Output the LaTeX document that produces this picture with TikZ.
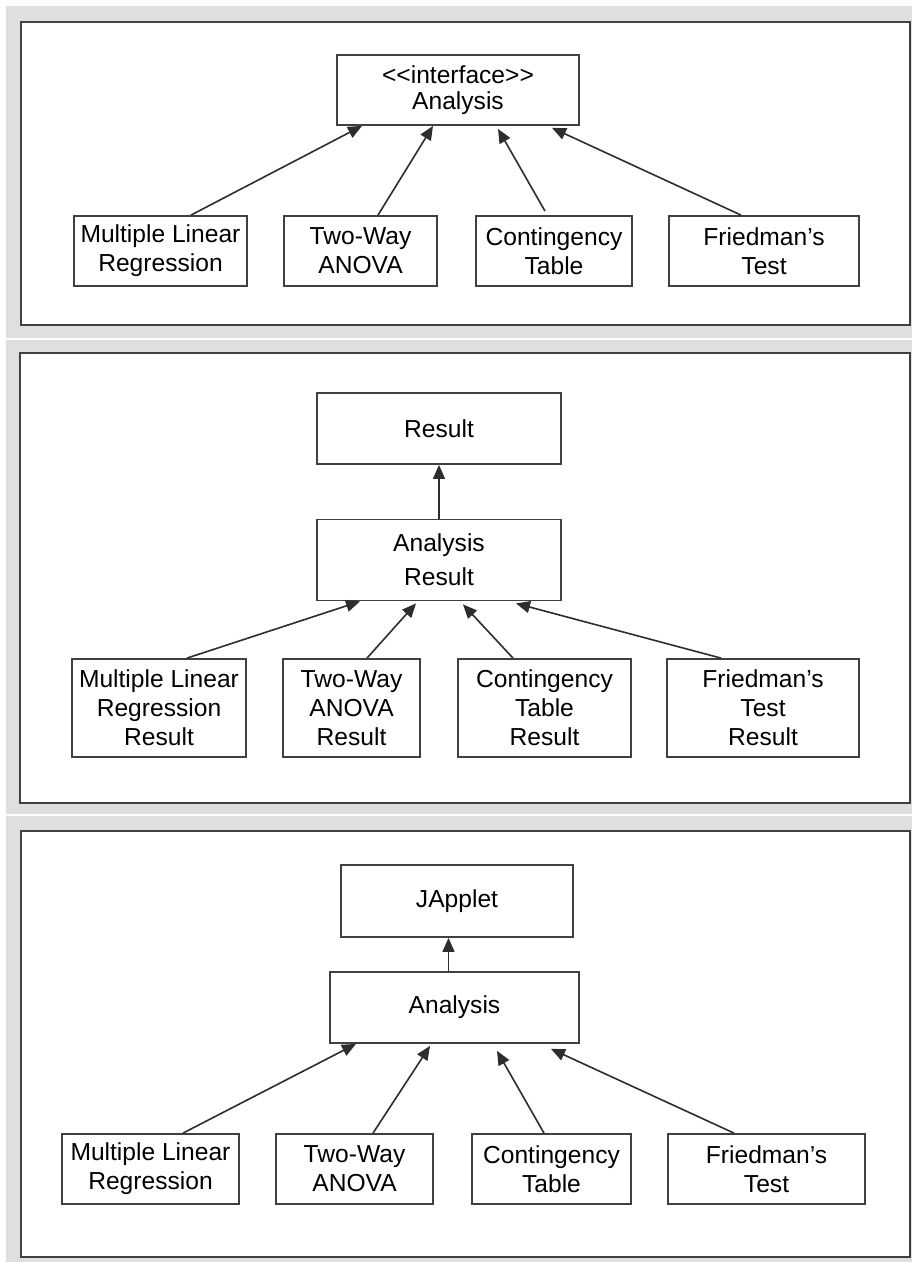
\documentclass[tikz,border=0pt]{standalone}
\usepackage{fontspec}
\newfontfamily\umlfont{Liberation Sans}
\usetikzlibrary{arrows.meta}
\definecolor{panelbg}{RGB}{223,223,223}
\definecolor{edgegray}{RGB}{64,64,64}
\definecolor{linegray}{RGB}{45,45,45}
\begin{document}
\begin{tikzpicture}[x=0.5pt,y=-0.5pt,
  cls/.style={draw=edgegray, line width=0.9pt, fill=white, inner sep=0pt,
    align=center, font=\umlfont\fontsize{12.3}{14.5}\selectfont},
  panel/.style={draw=edgegray, line width=1pt, fill=white},
  gen/.style={draw=linegray, line width=0.8pt,
    -{Triangle[length=7pt,width=6pt]}}]
\useasboundingbox (0,0) rectangle (912,1262);
% grey frames behind the three panels
\fill[white] (0,0) rectangle (912,1262);
\fill[panelbg] (6,6) rectangle (912,338);
\fill[panelbg] (6,340) rectangle (912,814);
\fill[panelbg] (6,816) rectangle (912,1262);
\draw[panel] (21,22) rectangle (910,325);
\draw[panel] (20,353) rectangle (910,803);
\draw[panel] (21,831) rectangle (910,1257);

% ---- panel 1: interface and its implementations
\node[cls, minimum width=121pt, minimum height=35pt] (ia) at (458,90)
  {{<}{<}interface{>}{>}\\[-1.5pt]Analysis};
\node[cls, minimum width=86.5pt, minimum height=35pt] (a1) at (160.5,251)
  {Multiple Linear\\Regression};
\node[cls, minimum width=76.5pt, minimum height=35pt] (a2) at (360.5,251)
  {Two-Way\\ANOVA};
\node[cls, minimum width=78pt, minimum height=35pt] (a3) at (554,251)
  {Contingency\\Table};
\node[cls, minimum width=95pt, minimum height=35pt] (a4) at (764,251)
  {Friedman’s\\Test};
\draw[gen] ([xshift=15.25pt]a1.north) -- ([xshift=-48pt]ia.south);
\draw[gen] ([xshift=8.75pt]a2.north) -- ([xshift=-12.5pt]ia.south);
\draw[gen] ([xshift=-4.5pt,yshift=2pt]a3.north) -- ([xshift=20pt,yshift=-1.5pt]ia.south);
\draw[gen] ([xshift=-11.5pt]a4.north) -- ([xshift=47pt,yshift=-1pt]ia.south);

% ---- panel 2: result hierarchy
\node[cls, minimum width=122pt, minimum height=35.5pt] (res) at (439,428.5)
  {Result};
\node[cls, minimum width=122pt, minimum height=40.5pt] (ares) at (439,560)
  {Analysis\\[2.5pt]Result};
\node[cls, minimum width=87pt, minimum height=49pt] (r1) at (159,708)
  {Multiple Linear\\Regression\\Result};
\node[cls, minimum width=68.5pt, minimum height=49pt] (r2) at (351.5,708)
  {Two-Way\\ANOVA\\Result};
\node[cls, minimum width=86.5pt, minimum height=49pt] (r3) at (544.5,708)
  {Contingency\\Table\\Result};
\node[cls, minimum width=96pt, minimum height=49pt] (r4) at (763,708)
  {Friedman’s\\Test\\Result};
\draw[gen] (ares.north) -- (res.south);
\draw[gen] ([xshift=14pt]r1.north) -- ([xshift=-39.5pt]ares.south);
\draw[gen] ([xshift=7.75pt]r2.north) -- ([xshift=-11.5pt,yshift=-1pt]ares.south);
\draw[gen] ([xshift=-15.75pt]r3.north) -- ([xshift=12pt,yshift=-1.5pt]ares.south);
\draw[gen] ([xshift=-21pt]r4.north) -- ([xshift=38.5pt,yshift=-1pt]ares.south);

% ---- panel 3: applet hierarchy
\node[cls, minimum width=116pt, minimum height=36pt] (ja) at (457,901)
  {JApplet};
\node[cls, minimum width=124.5pt, minimum height=35.5pt] (an) at (454.5,1007.5)
  {Analysis};
\node[cls, minimum width=88.5pt, minimum height=35pt] (s1) at (150.5,1169)
  {Multiple Linear\\Regression};
\node[cls, minimum width=78.5pt, minimum height=35pt] (s2) at (354.5,1169)
  {Two-Way\\ANOVA};
\node[cls, minimum width=79.5pt, minimum height=35pt] (s3) at (551.5,1169)
  {Contingency\\Table};
\node[cls, minimum width=98.5pt, minimum height=35pt] (s4) at (766.5,1169)
  {Friedman’s\\Test};
\draw[gen] ([xshift=-3pt]an.north) -- ([xshift=-3pt]an.north |- ja.south);
\draw[gen] ([xshift=16.25pt]s1.north) -- ([xshift=-49.25pt]an.south);
\draw[gen] ([xshift=9.25pt]s2.north) -- ([xshift=-12.25pt,yshift=-1pt]an.south);
\draw[gen] ([xshift=-3.75pt]s3.north) -- ([xshift=21.25pt,yshift=-3.5pt]an.south);
\draw[gen] ([xshift=-16.25pt]s4.north) -- ([xshift=48.25pt,yshift=-2.5pt]an.south);
\end{tikzpicture}
\end{document}
